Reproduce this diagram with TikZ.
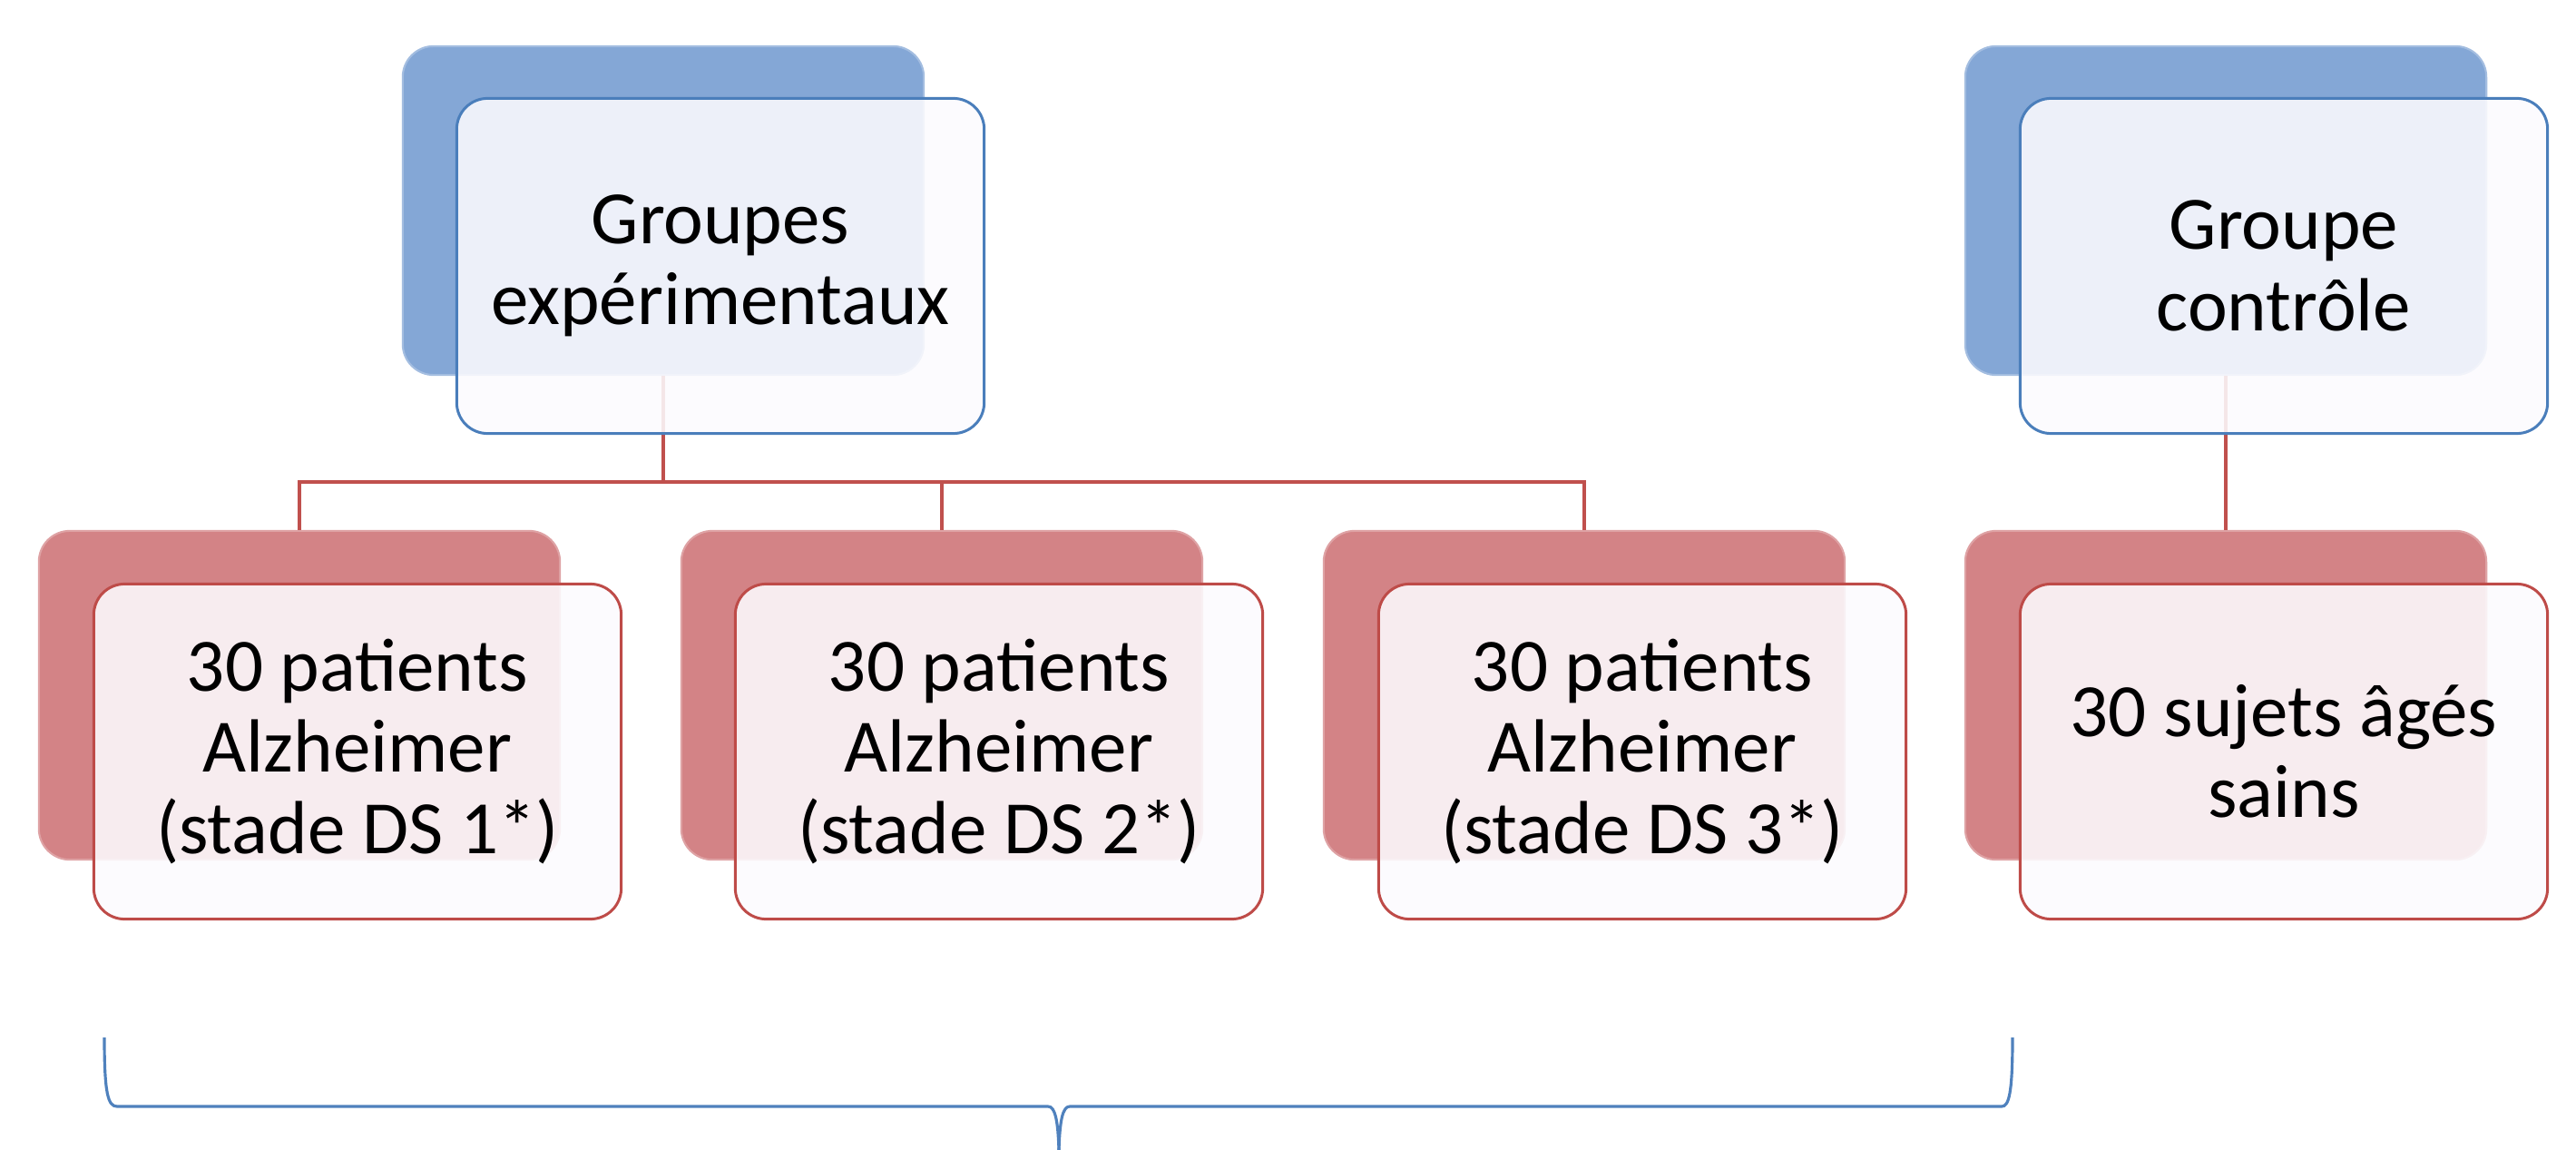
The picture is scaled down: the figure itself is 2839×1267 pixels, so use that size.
\documentclass[tikz,border=0pt]{standalone}
\usepackage{fontspec}
\setmainfont{Carlito}
\definecolor{bluebk}{RGB}{132,167,214}
\definecolor{blueline}{RGB}{74,126,187}
\definecolor{redbk}{RGB}{211,131,134}
\definecolor{redline}{RGB}{190,75,72}
\definecolor{frontfill}{RGB}{252,251,254}
\definecolor{connred}{RGB}{192,80,77}
\definecolor{bracecol}{RGB}{79,129,189}
\tikzset{
  backbox/.style={rounded corners=0.34cm, minimum width=5.74cm, minimum height=3.62cm, inner sep=0pt},
  bkblue/.style={backbox, fill=bluebk, draw=bluebk!75!white, line width=0.6pt},
  bkred/.style={backbox, fill=redbk, draw=redbk!75!white, line width=0.6pt},
  frontbox/.style={rounded corners=0.34cm, minimum width=5.81cm, minimum height=3.69cm, inner sep=0pt,
     fill=frontfill, fill opacity=0.88, text opacity=1, line width=0.85pt, align=center,
     font=\fontsize{23.6pt}{25.4pt}\selectfont},
  frblue/.style={frontbox, draw=blueline},
  frred/.style={frontbox, draw=redline},
  conn/.style={draw=connred, line width=1.3pt},
  bracepath/.style={draw=bracecol, line width=0.9pt}
}
\begin{document}
\begin{tikzpicture}[x=0.01cm, y=-0.01cm]
\useasboundingbox (0,0) rectangle (2839,1267);
% back boxes
\node[bkblue] (bkTL) at (731,232) {};
\node[bkblue] (bkTR) at (2453,232) {};
\node[bkred] (bk1) at (330,766) {};
\node[bkred] (bk2) at (1038,766) {};
\node[bkred] (bk3) at (1746,766) {};
\node[bkred] (bk4) at (2453,766) {};
% connectors
\coordinate (jl) at (330,531);
\draw[conn] (bkTL.south) -- (bkTL.south |- jl);
\draw[conn] (bk1.north) |- (bk3.north |- jl) -- (bk3.north);
\draw[conn] (bk2.north) -- (bk2.north |- jl);
\draw[conn] (bkTR.south) -- (bk4.north);
% front boxes
\node[frblue] (frTL) at (794,293) {Groupes\\expérimentaux};
\node[frblue] (frTR) at (2517,293) {Groupe\\contrôle};
\node[frred] (fr1) at (394,828) {30 patients\\Alzheimer\\(stade DS 1*)};
\node[frred] (fr2) at (1101,828) {30 patients\\Alzheimer\\(stade DS 2*)};
\node[frred] (fr3) at (1810,828) {30 patients\\Alzheimer\\(stade DS 3*)};
\node[frred] (fr4) at (2517,828) {30 sujets âgés\\sains};
% brace
\coordinate (bl) at (115,1143);
\coordinate (br) at (2218,1143);
\coordinate (bt) at (1167,1267);
\draw[bracepath] (bl) .. controls (115,1205) and (119,1219) .. (129,1219) -- (1155,1219)
   .. controls (1163,1219) and (1166,1235) .. (bt);
\draw[bracepath] (br) .. controls (2218,1205) and (2214,1219) .. (2206,1219) -- (1179,1219)
   .. controls (1171,1219) and (1168,1235) .. (bt);
\end{tikzpicture}
\end{document}
